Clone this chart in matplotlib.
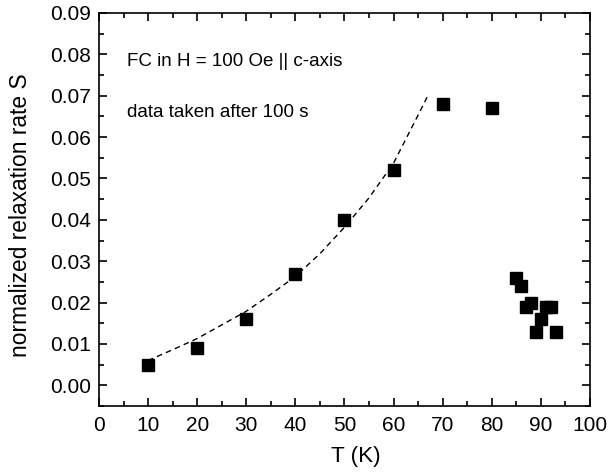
import matplotlib
matplotlib.use("Agg")
import matplotlib.pyplot as plt
from matplotlib.ticker import MultipleLocator

plt.rcParams['font.family'] = ['Liberation Sans', 'DejaVu Sans']

# measured data
T = [10, 20, 30, 40, 50, 60, 70, 80, 85, 86, 87, 88, 89, 90, 91, 92, 93]
S = [0.005, 0.009, 0.016, 0.027, 0.040, 0.052, 0.068, 0.067,
     0.026, 0.024, 0.019, 0.020, 0.013, 0.016, 0.019, 0.019, 0.013]

# dashed guide curve
fit_T = [10, 15, 20, 25, 30, 35, 40, 45, 50, 55, 60, 65, 67.2]
fit_S = [0.0060, 0.0086, 0.0113, 0.0146, 0.0179, 0.0220, 0.0263, 0.0318,
         0.0382, 0.0453, 0.0537, 0.0653, 0.0705]

xticks = [0, 10, 20, 30, 40, 50, 60, 70, 80, 90, 100]
yticks = [0.00, 0.01, 0.02, 0.03, 0.04, 0.05, 0.06, 0.07, 0.08, 0.09]

fig = plt.figure(figsize=(6.10, 4.74), dpi=100)
ax = fig.add_axes([0.1623, 0.1435, 0.8047, 0.8291])

ax.plot(fit_T, fit_S, linestyle=(0, (4, 3)), color='black', linewidth=1.0)
ax.plot(T, S, linestyle='none', marker='s', markersize=8.5, color='black')

ax.set_xlim(0, 100)
ax.set_ylim(-0.005, 0.09)
ax.set_xticks(xticks)
ax.set_yticks(yticks)
ax.set_xticklabels([str(v) for v in xticks])
ax.set_yticklabels([f"{v:.2f}" for v in yticks])
ax.xaxis.set_minor_locator(MultipleLocator(5))
ax.yaxis.set_minor_locator(MultipleLocator(0.005))
ax.tick_params(which='both', direction='in', top=True, right=True, labelsize=15, width=1.2)
ax.tick_params(which='major', length=6)
ax.tick_params(which='minor', length=3.5)
ax.tick_params(axis='y', pad=6)
ax.tick_params(axis='x', pad=7)
for sp in ax.spines.values():
    sp.set_linewidth(1.2)

ax.set_xlabel('T (K)', fontsize=16.2)
ax.xaxis.set_label_coords(0.523, -0.102)
ax.set_ylabel('normalized relaxation rate S', fontsize=16.4)
ax.yaxis.set_label_coords(-0.137, 0.486)

ax.text(5.8, 0.0773, 'FC in H = 100 Oe || c-axis', fontsize=13.5, va='baseline')
ax.text(5.8, 0.0648, 'data taken after 100 s', fontsize=13.5, va='baseline')

fig.savefig('out.png', dpi=100)
